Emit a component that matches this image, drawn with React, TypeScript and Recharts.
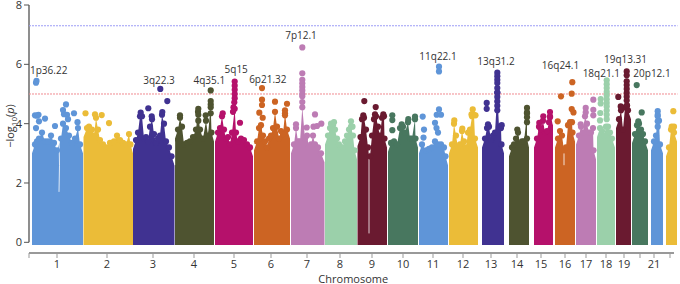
import {
  ComposedChart,
  Area,
  Line,
  Scatter,
  XAxis,
  YAxis,
  ZAxis,
  Label,
  ReferenceLine,
  ReferenceDot,
} from "recharts";

type Pt = number[];

// x is position along the concatenated genome (plot units), y is -log10(p)
const palette = ["#5f95d8", "#ebbc38", "#403291", "#4e5330", "#b5116b", "#cc6423", "#bd7cb4", "#9bd0aa", "#6a1a30", "#48775f"];

const chromStart = [32, 83.5, 133, 175, 215, 254, 291, 325, 357.5, 388, 419, 449, 482, 509, 534, 555, 576, 597, 616, 632, 651, 666];
const chromEnd = [83, 133, 174.5, 214, 253, 290, 324.5, 357, 387, 418, 448, 478, 504, 529, 553, 575, 596, 615, 631, 648, 663, 677];

const tickPositions = [29, 57, 107, 153, 194, 234, 271, 307, 340, 372, 403, 433, 463, 491, 517, 541, 565, 586, 606, 624, 640, 654, 670];
const tickNames = ["", "1", "2", "3", "4", "5", "6", "7", "8", "9", "10", "11", "12", "13", "14", "15", "16", "17", "18", "19", "", "21", ""];

const skyline1: Pt[] = [[35, 3.3], [37, 3.4], [39, 3.5], [42, 3.7], [45, 3.4], [48, 3.4], [51, 3.6], [54, 3.35], [57, 3.1], [61, 3.5], [63, 4.0], [66, 3.85], [69, 3.6], [72, 3.35], [75, 3.5], [78, 3.85], [80, 3.3]];
const skyline2: Pt[] = [[87, 3.85], [89, 3.9], [92, 3.8], [94, 3.6], [96, 4.2], [98, 3.8], [100, 3.45], [103, 3.3], [106, 3.2], [110, 3.35], [114, 3.4], [117, 3.6], [120, 3.45], [123, 3.35], [126, 3.3], [129, 3.65], [130.5, 3.3]];
const skyline3: Pt[] = [[136, 3.45], [138, 3.7], [140, 4.25], [142, 4.25], [144, 3.5], [146, 3.55], [148, 3.4], [150, 3.9], [152, 4.15], [154, 3.65], [156, 3.35], [158, 3.5], [160, 3.6], [162, 4.3], [164, 4.0], [166, 3.4], [169, 3.2], [171.5, 2.9]];
const skyline4: Pt[] = [[178, 3.8], [180, 4.2], [182, 3.9], [184, 3.3], [187, 3.35], [190, 3.4], [193, 3.55], [196, 3.8], [198, 4.4], [200, 3.8], [203, 3.5], [206, 4.1], [208, 3.6], [210.7, 4.65], [211.5, 3.7]];
const skyline5: Pt[] = [[218, 3.7], [220, 3.85], [222, 4.25], [224, 3.8], [226, 3.5], [228, 3.55], [230, 3.3], [232, 3.7], [234.7, 4.5], [236, 3.7], [238, 3.4], [241, 3.5], [244, 3.45], [247, 3.3], [250, 3.2]];
const skyline6: Pt[] = [[257, 3.4], [259, 3.85], [261, 3.95], [263, 3.6], [265, 3.4], [267, 3.2], [269, 3.5], [271, 3.6], [273, 3.85], [275, 4.4], [277, 3.9], [279, 3.5], [281, 3.75], [283, 3.65], [285, 4.35], [287, 3.8]];
const skyline7: Pt[] = [[294, 3.3], [296, 3.85], [298, 3.4], [300, 3.4], [302.3, 4.55], [305, 3.5], [307, 3.6], [309, 3.2], [311, 3.3], [313, 3.6], [315, 3.3], [318, 3.2], [321, 3.0]];
const skyline8: Pt[] = [[328, 3.6], [330, 3.85], [333, 3.95], [335, 3.8], [337, 3.5], [339, 3.3], [341, 3.2], [343, 3.2], [345, 3.4], [347, 3.6], [349, 3.8], [351, 3.9], [353, 3.6], [354.5, 3.1]];
const skyline9: Pt[] = [[360.5, 3.55], [362, 4.15], [364, 4.2], [366, 3.8], [368, 3.2], [370, 2.9], [372, 3.6], [374, 4.15], [376, 4.25], [378, 3.9], [380, 3.6], [382, 4.2], [384, 4.25], [384.5, 3.5]];
const skyline10: Pt[] = [[391, 3.35], [394, 3.4], [397, 3.3], [400, 3.85], [403, 3.9], [405, 3.7], [408, 4.05], [410, 3.5], [412, 3.5], [415, 4.15], [415.5, 3.5]];
const skyline11: Pt[] = [[422, 3.3], [426, 3.1], [429, 3.15], [432, 3.2], [435, 3.4], [438, 3.3], [441, 3.3], [444, 3.2], [445.5, 2.9]];
const skyline12: Pt[] = [[452, 3.3], [454, 4.0], [456, 3.6], [458, 3.2], [460, 3.3], [462, 3.75], [464, 3.4], [466, 3.2], [468, 3.7], [470, 3.8], [472, 4.25], [474, 4.3], [475, 3.5]];
const skyline13: Pt[] = [[485, 3.5], [487, 3.85], [489, 3.9], [491, 3.45], [493, 3.6], [495, 3.7], [497.3, 5.05], [499, 3.9], [501, 3.85], [501.5, 3.3]];
const skyline14: Pt[] = [[512, 3.2], [514, 3.3], [516, 3.5], [518, 3.7], [520, 3.3], [522, 3.4], [524, 3.4], [527, 4.35], [527, 3.5]];
const skyline15: Pt[] = [[537, 3.5], [539, 3.9], [541, 3.8], [543, 4.1], [545, 3.7], [547, 3.75], [549, 4.05], [550, 4.25]];
const skyline16: Pt[] = [[558, 3.5], [560, 3.75], [562, 3.6], [564, 3.1], [566, 3.2], [568, 3.95], [570, 4.05], [572, 4.05], [572.5, 3.7]];
const skyline17: Pt[] = [[579, 3.6], [581, 3.9], [583, 3.7], [585, 4.25], [587, 4.0], [589, 3.7], [591, 3.7], [593, 3.85], [593.5, 3.1]];
const skyline18: Pt[] = [[600, 3.85], [602, 3.75], [604, 3.6], [606, 3.9], [608, 3.9], [610, 3.7], [612, 3.5]];
const skyline19: Pt[] = [[619, 4.15], [621, 4.45], [623, 3.8], [625, 4.55], [627, 4.6], [628, 4.45]];
const skyline20: Pt[] = [[635, 3.65], [637, 3.95], [639, 4.0], [641, 3.8], [643, 3.65], [645, 3.4]];
const skyline21: Pt[] = [[654, 3.4], [656, 3.6], [657.7, 4.3], [659, 4.1], [660, 3.3]];
const skyline22: Pt[] = [[669, 3.2], [671, 3.8], [673, 3.85], [674, 3.7]];

const peaks1: Pt[] = [[35, 4.28], [37, 4.27], [38.5, 4.3], [39, 4.08], [36, 3.85], [45, 4.17], [55, 3.92], [63, 4.46], [66, 4.65], [64, 4.32], [67, 4.3], [68, 4.15], [74, 4.35], [77.5, 4.05], [36, 5.38], [36.5, 5.44]];
const peaks2: Pt[] = [[85.5, 4.35], [95, 4.31], [101.7, 4.29], [109, 4.02]];
const peaks3: Pt[] = [[160.3, 5.17], [167.3, 4.76], [148.3, 4.52], [140.7, 4.37], [162.3, 4.39], [151.7, 4.25]];
const peaks4: Pt[] = [[210.7, 5.12], [210.7, 4.76], [198.3, 4.5], [180, 4.28], [205.7, 4.28], [210.7, 4.55], [210.7, 4.35], [198.3, 4.3], [198.3, 4.1]];
const peaks5: Pt[] = [[234.7, 5.42], [234.7, 5.28], [234.7, 5.14], [234.7, 5.0], [234.7, 4.86], [234.3, 4.72], [233.5, 4.55], [233, 4.4], [240, 4.03], [222.7, 4.35]];
const peaks6: Pt[] = [[262, 5.2], [262, 4.81], [262, 4.63], [275, 4.74], [287, 4.67], [259.3, 4.37], [262.7, 4.2], [285, 4.45], [285, 4.28]];
const peaks7: Pt[] = [[302.3, 6.57], [302.3, 5.7], [302.3, 5.48], [302.3, 5.36], [302.3, 5.24], [302.3, 5.12], [302.3, 5.0], [302.3, 4.92], [302.3, 4.73], [315, 4.31], [321.3, 4.0], [313.5, 3.9], [317, 3.92], [306.7, 3.87], [296, 3.98]];
const peaks8: Pt[] = [[331, 4.0], [334, 4.05], [351, 4.08], [352.5, 3.9]];
const peaks9: Pt[] = [[364.3, 4.76], [375.7, 4.56], [363.3, 4.28], [375, 4.31], [383.3, 4.31]];
const peaks10: Pt[] = [[392.3, 4.28], [392.3, 4.12], [392.3, 3.78], [415, 4.24], [408.3, 4.15], [401.7, 3.98]];
const peaks11: Pt[] = [[439, 5.92], [439, 5.76], [422.7, 4.24], [424, 3.8], [423.5, 3.53], [439, 4.48], [436.7, 4.3], [441, 4.3], [435, 4.03], [436.5, 3.85], [438, 3.7]];
const peaks12: Pt[] = [[454.3, 4.11], [462.3, 3.83], [472.7, 4.48], [471.5, 4.31], [475.5, 4.28]];
const peaks13: Pt[] = [[497.3, 5.72], [497.3, 5.6], [497.3, 5.48], [497.3, 5.37], [497.3, 5.2], [497.3, 5.05], [497.3, 4.9], [497.3, 4.75], [497.3, 4.6], [497.3, 4.45], [486.7, 4.7], [486.7, 4.5], [488, 3.98], [501.7, 3.95]];
const peaks14: Pt[] = [[527, 4.53], [527, 4.38], [527, 4.22], [527, 4.05], [517.3, 3.8]];
const peaks15: Pt[] = [[543.3, 4.25], [550, 4.39], [550, 4.22], [539.3, 4.03]];
const peaks16: Pt[] = [[561, 4.92], [572.3, 5.4], [571.7, 5.01], [571.7, 4.49], [573.5, 4.38], [557.7, 4.08]];
const peaks17: Pt[] = [[593.3, 4.81], [585.7, 4.53], [585.7, 4.38], [593.3, 4.47], [593.3, 4.28], [580.7, 3.98]];
const peaks18: Pt[] = [[606.7, 5.46], [606.7, 5.33], [606.7, 5.2], [606.7, 5.07], [606.7, 4.95], [606.7, 4.82], [606.7, 4.7], [606.7, 4.58], [606.7, 4.44], [606.7, 4.3], [606.7, 4.15], [600.7, 4.83], [600.7, 4.68], [600.3, 4.36], [600, 4.11]];
const peaks19: Pt[] = [[626.7, 5.76], [626.7, 5.63], [626.7, 5.43], [626.7, 5.3], [626.7, 5.17], [626.7, 5.04], [626.7, 4.91], [626.7, 4.78], [618.3, 4.9], [620.7, 4.58], [627, 4.62]];
const peaks20: Pt[] = [[636.7, 5.3], [641.7, 4.38], [638.3, 4.08]];
const peaks21: Pt[] = [[657.7, 4.42], [657.7, 4.25], [657.7, 4.08], [657.7, 3.9]];
const peaks22: Pt[] = [[673.3, 4.42], [671.7, 3.9], [674, 3.9]];

const skylines = [skyline1, skyline2, skyline3, skyline4, skyline5, skyline6, skyline7, skyline8, skyline9, skyline10, skyline11, skyline12, skyline13, skyline14, skyline15, skyline16, skyline17, skyline18, skyline19, skyline20, skyline21, skyline22];
const peaks = [peaks1, peaks2, peaks3, peaks4, peaks5, peaks6, peaks7, peaks8, peaks9, peaks10, peaks11, peaks12, peaks13, peaks14, peaks15, peaks16, peaks17, peaks18, peaks19, peaks20, peaks21, peaks22];

// thin white notches at centromeres
const gaps: Pt[][] = [
  [[59, 3.6], [59.5, 2.6], [59, 1.7]],
  [[369, 3.1], [369, 0.3]],
  [[564, 3.2], [564, 2.6]],
  [[174.7, 3.4], [174.7, 2.6]],
];

const locusNames = ["1p36.22", "3q22.3", "4q35.1", "5q15", "6p21.32", "7p12.1", "11q22.1", "13q31.2", "16q24.1", "18q21.1", "19q13.31", "20p12.1"];
const locusX = [48.7, 159, 209.3, 236.2, 267.8, 301, 438, 496, 560.5, 601.3, 625.5, 652];
const locusY = [5.81, 5.46, 5.47, 5.83, 5.49, 6.97, 6.26, 6.09, 5.95, 5.68, 6.17, 5.68];

const toRows = (pts: Pt[]) => pts.map(([x, y]) => ({ x, y }));
const font = "'Open Sans', sans-serif";

function YTitle() {
  return (
    <text transform="translate(14,126) rotate(-90)" textAnchor="middle" fontFamily={font} fontSize={11} fill="#333">
      −log<tspan fontSize={8} dy={3}>10</tspan>
      <tspan dy={-3}>(</tspan>
      <tspan fontStyle="italic">p</tspan>)
    </text>
  );
}

export default function App() {
  return (
    <div style={{ position: "absolute", left: 0, top: 0 }}>
      <ComposedChart width={680} height={284} margin={{ top: 5, right: 2.5, bottom: 0, left: 0 }}>
        <XAxis
          dataKey="x"
          type="number"
          domain={[29, 677.5]}
          allowDataOverflow
          ticks={tickPositions}
          interval={0}
          tickFormatter={(v: number) => tickNames[tickPositions.indexOf(v)]}
          axisLine={false}
          tickLine={{ stroke: "#999" }}
          tickSize={5}
          height={31}
          tick={{ fill: "#333", fontSize: 11, fontFamily: font }}
        >
          <Label value="Chromosome" position="insideBottom" offset={1} fill="#333" fontSize={11} fontFamily={font} />
        </XAxis>
        <YAxis
          type="number"
          width={29}
          domain={[-0.36, 8]}
          allowDataOverflow
          ticks={[0, 2, 4, 6, 8]}
          interval={0}
          axisLine={false}
          tickLine={{ stroke: "#555" }}
          tickSize={5}
          tick={{ fill: "#333", fontSize: 11, fontFamily: font }}
        >
          <Label content={<YTitle />} />
        </YAxis>
        <ZAxis range={[30, 30]} />

        <ReferenceLine segment={[{ x: 29, y: 0 }, { x: 29, y: 8 }]} stroke="#444" strokeWidth={1.2} />
        <ReferenceLine segment={[{ x: 29, y: -0.36 }, { x: 674, y: -0.36 }]} stroke="#999" strokeWidth={2} />

        {skylines.map((sky, i) => {
          const color = palette[i % 10];
          const body = [[chromStart[i], sky[0][1] - 0.3], ...sky, [chromEnd[i], sky[sky.length - 1][1] - 0.3]];
          return (
            <Area
              key={"area" + i}
              data={toRows(body)}
              dataKey="y"
              type="linear"
              baseValue={-0.09}
              fill={color}
              fillOpacity={1}
              stroke="none"
              dot={false}
              activeDot={false}
              isAnimationActive={false}
            />
          );
        })}
        {skylines.map((sky, i) => (
          <Scatter key={"sky" + i} data={toRows(sky)} dataKey="y" fill={palette[i % 10]} isAnimationActive={false} />
        ))}
        {peaks.map((pts, i) => (
          <Scatter key={"peak" + i} data={toRows(pts)} dataKey="y" fill={palette[i % 10]} isAnimationActive={false} />
        ))}
        {gaps.map((g, i) => (
          <Line key={"gap" + i} data={toRows(g)} dataKey="y" stroke="#fff" strokeWidth={0.8} dot={false} activeDot={false} isAnimationActive={false} />
        ))}

        <ReferenceLine y={7.3} stroke="#9c9cf6" strokeDasharray="2 1" strokeWidth={1} />
        <ReferenceLine y={5} stroke="#f08a90" strokeDasharray="2 1" strokeWidth={1} />

        {locusNames.map((name, i) => (
          <ReferenceDot
            key={name}
            x={locusX[i]}
            y={locusY[i]}
            r={0}
            stroke="none"
            label={{ value: name, position: "center", fill: "#333", fontSize: 10, fontFamily: font }}
          />
        ))}
      </ComposedChart>
    </div>
  );
}
